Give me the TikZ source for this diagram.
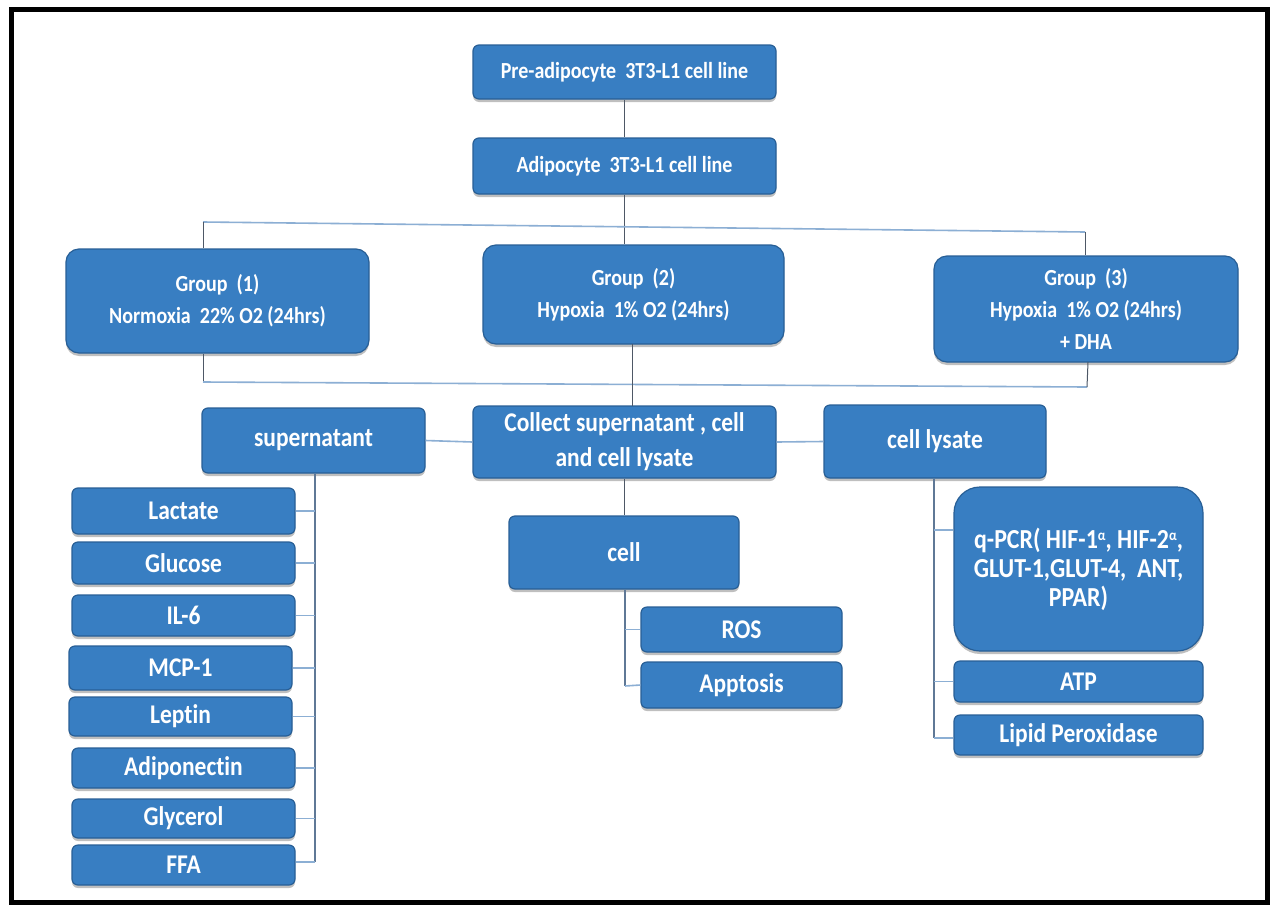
\documentclass[tikz,border=0pt]{standalone}
\usepackage{fontspec}
\setmainfont{Carlito}[Ligatures=NoCommon, FakeStretch=0.87]
\usetikzlibrary{shadows}
\definecolor{boxfill}{RGB}{56,126,194}
\definecolor{boxline}{RGB}{40,95,150}
\definecolor{vline}{RGB}{78,88,102}
\definecolor{hline}{RGB}{140,175,212}
\definecolor{tline}{RGB}{95,120,150}
\tikzset{
  box/.style={draw=boxline, line width=1.2pt, fill=boxfill, rounded corners=6pt,
    text=white, align=center, inner sep=2pt,
    font=\bfseries\fontsize{27}{31}\selectfont,
    drop shadow={shadow xshift=0pt, shadow yshift=-3pt, fill=black!55, opacity=0.45}},
  topbox/.style={box, font=\bfseries\fontsize{23}{32}\selectfont},
  bigbox/.style={topbox, rounded corners=13pt},
  hugebox/.style={box, rounded corners=26pt, font=\bfseries\fontsize{27.5}{29}\selectfont},
  vcon/.style={draw=vline, line width=1pt},
  hcon/.style={draw=hline, line width=1.6pt},
  tcon/.style={draw=tline, line width=1.2pt},
}
\newcommand{\supalpha}{{\fontsize{15}{15}\selectfont\raisebox{8pt}{α}}}
\begin{document}
\begin{tikzpicture}[x=1pt,y=-1pt]
\useasboundingbox (0,0) rectangle (1271,905);
\fill[white] (0,0) rectangle (1271,905);
\draw[line width=5pt] (11,9) rectangle (1267,902);

% top nodes
\node[topbox, minimum width=303pt, minimum height=54pt] (pre) at (624.5,72) {Pre-adipocyte\ \ 3T3-L1 cell line};
\node[topbox, minimum width=303pt, minimum height=56pt] (adip) at (624.5,166) {Adipocyte\ \ 3T3-L1 cell line};

% groups
\node[bigbox, minimum width=303pt, minimum height=104pt] (g1) at (217.5,301) {Group\ \ (1)\\Normoxia\ \ 22\% O2 (24hrs)};
\node[bigbox, minimum width=301pt, minimum height=99pt] (g2) at (633.5,294.5) {Group\ \ (2)\\Hypoxia\ \ 1\% O2 (24hrs)};
\node[bigbox, minimum width=304pt, minimum height=106pt] (g3) at (1086,309) {Group\ \ (3)\\Hypoxia\ \ 1\% O2 (24hrs)\\+ DHA};

% collection level
\node[box, minimum width=223pt, minimum height=65pt] (sup) at (313.5,440.5) {supernatant};
\node[box, minimum width=303pt, minimum height=72pt, font=\bfseries\fontsize{27}{35}\selectfont] (col) at (624.5,442) {Collect supernatant , cell\\and cell lysate};
\node[box, minimum width=222pt, minimum height=73pt] (lys) at (935,441.5) {cell lysate};
\node[box, minimum width=230pt, minimum height=73pt] (cell) at (624,552.5) {cell};

% supernatant items
\node[box, minimum width=223pt, minimum height=46pt] (lac) at (183.5,511) {Lactate};
\node[box, minimum width=223pt, minimum height=42pt] (glu) at (183.5,563) {Glucose};
\node[box, minimum width=223pt, minimum height=41pt] (il6) at (183.5,615.5) {IL-6};
\node[box, minimum width=223pt, minimum height=44pt] (mcp) at (180.5,668) {MCP-1};
\node[box, minimum width=223pt, minimum height=39pt] (lep) at (180.5,716.5) {Leptin};
\node[box, minimum width=223pt, minimum height=40pt] (adp) at (183.5,768) {Adiponectin};
\node[box, minimum width=223pt, minimum height=39pt] (gly) at (183.5,818.5) {Glycerol};
\node[box, minimum width=223pt, minimum height=40pt] (ffa) at (183.5,865) {FFA};

% cell items
\node[box, minimum width=201pt, minimum height=45pt] (ros) at (741.5,629.5) {ROS};
\node[box, minimum width=201pt, minimum height=46pt] (apo) at (741.5,685) {Apptosis};

% cell lysate items
\node[hugebox, minimum width=249pt, minimum height=164pt] (pcr) at (1078.5,569) {q-PCR( HIF-1\supalpha, HIF-2\supalpha,\\GLUT-1,GLUT-4,\ \ ANT,\\PPAR)};
\node[box, minimum width=249pt, minimum height=41pt] (atp) at (1078.5,681.5) {ATP};
\node[box, minimum width=249pt, minimum height=40pt] (lip) at (1078.5,735) {Lipid Peroxidase};

% coordinates for the split lines
\coordinate (tl) at (203,222);
\coordinate (tr) at (1085,232);
\coordinate (bl) at (203,382);
\coordinate (br) at (1087,387);

% connectors: top
\draw[vcon] (pre.south) -- (adip.north);
\draw[vcon] (adip.south) -- (adip.south |- g2.north);
\draw[hcon] (tl) -- (tr);
\draw[vcon] (tl) -- (tl |- g1.north);
\draw[vcon] (tr) -- (tr |- g3.north);
\draw[vcon] (bl |- g1.south) -- (bl);
\draw[hcon] (bl) -- (br);
\draw[vcon] (1088,362) -- (br);
\draw[vcon] (632,344) -- (632,406);

% collection level links
\draw[hcon] (sup.east) -- (col.west);
\draw[hcon] (col.east) -- (lys.west);
\draw[vcon] (col.south) -- (col.south |- cell.north);

% supernatant tree
\coordinate (st) at (315,862);
\draw[tcon] (sup.south -| st) -- (st);
\foreach \n in {lac,glu,il6,mcp,lep,adp,gly}{\draw[hcon] (\n.east) -- (\n.east -| st);}
\draw[hcon] (ffa.east |- st) -- (st);

% cell tree
\coordinate (ct) at (625,686);
\draw[tcon] (cell.south -| ct) -- (ct);
\draw[hcon] (ros.west) -- (ros.west -| ct);
\draw[hcon] (apo.west) -- (ct);

% lysate tree
\coordinate (lt) at (934,738);
\coordinate (lq) at (934,530);
\draw[tcon] (lys.south -| lt) -- (lt);
\draw[hcon] (lq) -- (pcr.west |- lq);
\draw[hcon] (atp.west) -- (atp.west -| lt);
\draw[hcon] (lt) -- (lip.west |- lt);
\end{tikzpicture}
\end{document}
